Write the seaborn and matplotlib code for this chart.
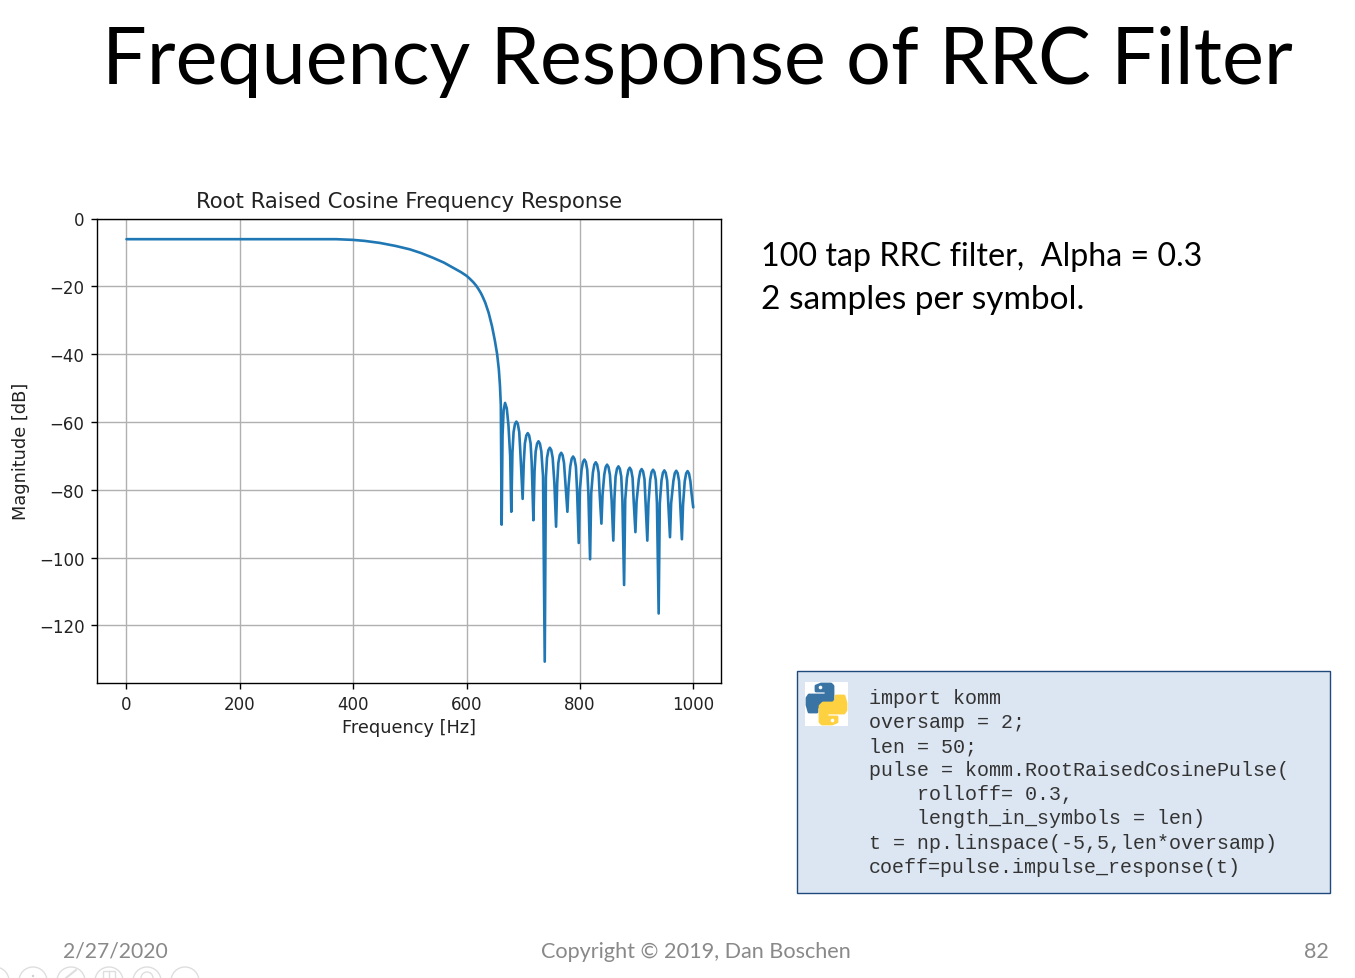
import matplotlib
matplotlib.use("Agg")
import matplotlib.pyplot as plt
import seaborn as sns
import pandas as pd
from matplotlib.patches import Rectangle, Polygon, Circle

# passband and main rolloff
main_freq = [0, 100, 200, 306, 370, 385, 399, 420, 447, 475, 500, 520, 541, 560, 577, 590, 600, 606, 612, 617, 621,
             625, 628, 633, 639, 645, 650, 654, 657, 659, 660.5]
main_mag = [-6.1, -6.1, -6.1, -6.1, -6.1, -6.2, -6.3, -6.6, -7.2, -8.1, -9.1, -10.2, -11.6, -13.0, -14.6, -15.8, -16.9, -17.8, -18.8, -19.8, -20.8,
            -21.9, -22.9, -24.8, -27.8, -31.8, -36.0, -40.0, -44.5, -49.3, -55.0]

# sidelobes, one row per lobe (null first, then the arc)
lobe_freq = [
    662, 663.5, 665.5, 668, 671, 674, 677,
    679, 681, 683, 685.5, 688, 690.5, 693, 695,
    699, 701, 703, 705.5, 708, 710.5, 713, 715,
    718, 720, 722, 724.5, 727, 729.5, 732, 735,
    738, 740, 742, 744.5, 747, 749.5, 752, 755,
    758, 760, 762, 764.5, 767, 769.5, 772, 775,
    778, 780, 783, 785.5, 788, 790.5, 793, 795,
    798, 800, 803, 805.5, 808, 810.5, 813, 815,
    818, 820, 823, 825.5, 828, 830.5, 833, 835,
    838, 840, 843, 845.5, 848, 850.5, 853, 856,
    859, 861, 863, 865.5, 868, 870.5, 873, 875,
    878, 880, 883, 885.5, 888, 890.5, 893, 895,
    898, 900, 904, 906.5, 909, 911.5, 914, 916,
    919, 921, 924, 926.5, 929, 931.5, 934, 936,
    939, 941, 944, 946.5, 949, 951.5, 954, 956,
    959, 961, 965, 967.5, 970, 972.5, 975, 977,
    980, 982, 985, 987.5, 990, 992.5, 995, 997, 1000,
]
lobe_mag = [
    -90.3, -64.0, -56.5, -54.4, -56.0, -61.0, -70.0,
    -86.5, -69.0, -63.0, -60.6, -59.9, -60.6, -63.0, -69.0,
    -82.7, -72.0, -66.3, -64.0, -63.3, -64.0, -66.3, -72.0,
    -89.0, -74.5, -68.7, -66.4, -65.7, -66.4, -68.7, -76.0,
    -130.7, -76.5, -70.6, -68.3, -67.6, -68.3, -70.6, -78.0,
    -90.9, -78.0, -72.1, -69.8, -69.1, -69.8, -72.1, -79.5,
    -86.5, -79.0, -73.2, -70.9, -70.2, -70.9, -73.2, -80.0,
    -95.7, -80.0, -74.1, -71.8, -71.1, -71.8, -74.1, -81.0,
    -100.5, -81.0, -74.9, -72.6, -71.9, -72.6, -74.9, -81.5,
    -90.0, -81.5, -75.6, -73.3, -72.6, -73.3, -75.6, -83.0,
    -95.0, -82.5, -76.1, -73.8, -73.1, -73.8, -76.1, -83.0,
    -108.1, -83.0, -76.5, -74.2, -73.5, -74.2, -76.5, -83.5,
    -92.5, -83.5, -76.9, -74.6, -73.9, -74.6, -76.9, -84.0,
    -95.0, -84.0, -77.1, -74.8, -74.1, -74.8, -77.1, -84.0,
    -116.5, -84.0, -77.3, -75.0, -74.3, -75.0, -77.3, -84.0,
    -94.0, -84.0, -77.4, -75.1, -74.4, -75.1, -77.4, -84.0,
    -94.6, -84.5, -77.5, -75.2, -74.5, -75.2, -77.5, -81.0, -85.2,
]

x_ticks = [0, 200, 400, 600, 800, 1000]
y_ticks = [0, -20, -40, -60, -80, -100, -120]

code_lines = [
    "import komm",
    "oversamp = 2;",
    "len = 50;",
    "pulse = komm.RootRaisedCosinePulse(",
    "    rolloff= 0.3,",
    "    length_in_symbols = len)",
    "t = np.linspace(-5,5,len*oversamp)",
    "coeff=pulse.impulse_response(t)",
]

W, H = 1355, 979

sns.set_style("whitegrid")
plt.rcParams["font.family"] = ["DejaVu Sans"]

df = pd.DataFrame({"freq": main_freq + lobe_freq, "mag": main_mag + lobe_mag})

fig = plt.figure(figsize=(W / 100, H / 100), dpi=100, facecolor="white")

# slide layer in pixel coordinates
slide = fig.add_axes([0, 0, 1, 1])
slide.set_xlim(0, W)
slide.set_ylim(H, 0)
slide.axis("off")

ax = fig.add_axes([97 / W, 1 - 684 / H, (721 - 97) / W, (684 - 219.5) / H])
sns.lineplot(data=df, x="freq", y="mag", sort=False, estimator=None, color="#1f77b4", lw=1.9, ax=ax)
ax.set_xlim(-52, 1049)
ax.set_ylim(-137, 0)
ax.set_xticks(x_ticks)
ax.set_yticks(y_ticks)
ax.grid(True, color="#b0b0b0", lw=1.0)
for s in ax.spines.values():
    s.set_color("black")
    s.set_linewidth(1.0)
ax.tick_params(axis="both", length=4.5, width=1.0, color="black", labelsize=12, labelcolor="#222222", left=True, bottom=True, pad=4.5)
ax.set_title("Root Raised Cosine Frequency Response", fontsize=15.2, color="#222222", pad=8)
ax.set_xlabel("Frequency [Hz]", fontsize=12.8, color="#222222", labelpad=3.5)
ax.set_ylabel("Magnitude [dB]", fontsize=12.8, color="#222222", labelpad=6.5)

# slide text
slide.text(697, 62.5, "Frequency Response of RRC Filter", family="Lato", fontsize=57, ha="center", va="center", color="black")
slide.text(761, 257, "100 tap RRC filter,  Alpha = 0.3", family="Lato", fontsize=23.2, va="center", color="black")
slide.text(761, 300, "2 samples per symbol.", family="Lato", fontsize=24, va="center", color="black")

# code box
slide.add_patch(Rectangle((797, 671.5), 533, 222, facecolor="#dce6f2", edgecolor="#1f497d", lw=1))
for i, line in enumerate(code_lines):
    slide.text(869, 698.5 + i * 24.1, line, family="Liberation Mono", fontsize=14.4, va="center", color="#333333")

# python logo
slide.add_patch(Rectangle((805, 683), 43, 44, facecolor="white", edgecolor="none"))
blue = [(821, 685), (831, 685), (833, 687), (833, 703), (830, 706), (820, 706), (817, 709), (817, 713),
        (809, 713), (807, 706), (807, 699), (809, 696), (826, 696), (826, 692), (816, 692), (816, 687)]
cx, cy = 826.5, 705
yellow = [(2 * cx - a, 2 * cy - b) for a, b in blue]
slide.add_patch(Polygon(blue, closed=True, facecolor="#3a74a5", edgecolor="#3a74a5", lw=2, joinstyle="round"))
slide.add_patch(Polygon(yellow, closed=True, facecolor="#fed141", edgecolor="#fed141", lw=2, joinstyle="round"))
slide.add_patch(Circle((820.5, 688.5), 1.8, facecolor="white", edgecolor="none"))
slide.add_patch(Circle((2 * cx - 820.5, 2 * cy - 688.5), 1.8, facecolor="white", edgecolor="none"))

# footer
slide.text(63, 952, "2/27/2020", family="Lato", fontsize=15.2, va="center", color="#898989")
slide.text(696, 952, "Copyright © 2019, Dan Boschen", family="Lato", fontsize=15.6, ha="center", va="center", color="#898989")
slide.text(1329, 952, "82", family="Lato", fontsize=15.5, ha="right", va="center", color="#898989")

# presenter toolbar, cut off at the bottom edge
for px in [-5, 33, 71, 109, 147, 185]:
    slide.add_patch(Circle((px, 982), 14, facecolor="white", edgecolor="#dedede", lw=1))
slide.add_patch(Circle((33, 977), 1.2, facecolor="#cfcfcf", edgecolor="none"))
slide.plot([66, 76], [979, 971], color="#dedede", lw=1.5)
slide.add_patch(Rectangle((103, 972), 12, 8, facecolor="none", edgecolor="#dedede", lw=1))
slide.plot([109, 109], [972, 980], color="#dedede", lw=1)
slide.add_patch(Circle((147, 979), 6, facecolor="none", edgecolor="#dedede", lw=1))

fig.savefig("out.png", dpi=100)
plt.close(fig)
